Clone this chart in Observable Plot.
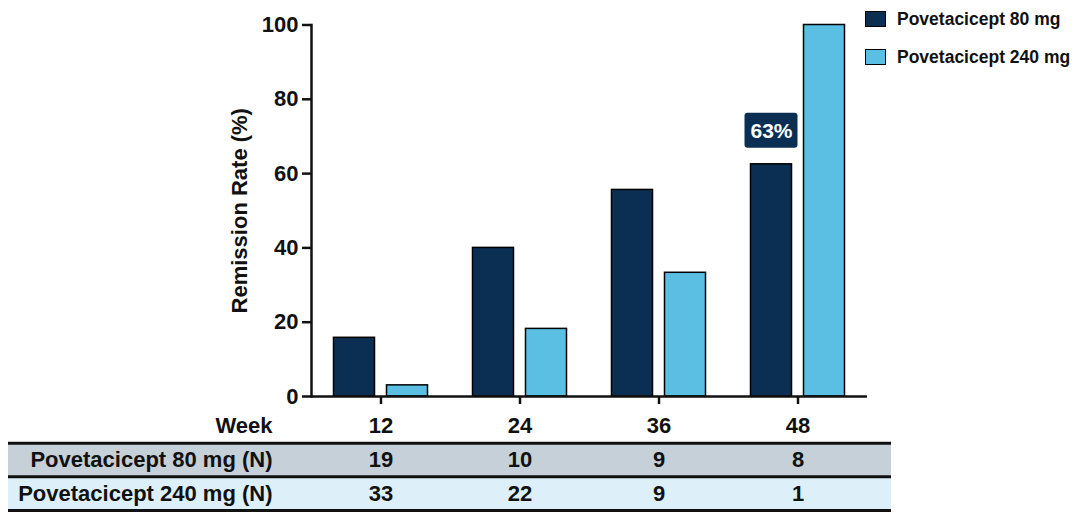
<!DOCTYPE html>
<html>
<head>
<meta charset="utf-8">
<script src="https://cdn.jsdelivr.net/npm/d3@7"></script>
<script src="https://cdn.jsdelivr.net/npm/@observablehq/plot@0.6"></script>
<style>
  html, body { margin: 0; padding: 0; background: #fff; }
  #wrap { position: relative; width: 1080px; height: 519px; overflow: hidden; font-family: "Liberation Sans", Arial, sans-serif; color: #111; }
  #wrap svg { display: block; }
  .legend { position: absolute; left: 865px; top: 0px; font-weight: bold; font-size: 17.5px; }
  .legend .item { display: flex; align-items: center; height: 38px; white-space: nowrap; }
  .legend .sw { width: 19px; height: 14px; border: 1.5px solid #000; margin-right: 11px; flex: none; }
</style>
</head>
<body>
<div id="wrap"></div>
<script>
// ---- data ----
const weeks = ["12", "24", "36", "48"];
const doses = ["Povetacicept 80 mg", "Povetacicept 240 mg"];
const rate80 = [15.8, 40.0, 55.6, 62.5];
const rate240 = [3.0, 18.2, 33.3, 100.0];
const n80 = [19, 10, 9, 8];
const n240 = [33, 22, 9, 1];
const rowLabels = ["Week", "Povetacicept 80 mg (N)", "Povetacicept 240 mg (N)"];
const yTicks = [0, 20, 40, 60, 80, 100];
const doseColors = ["#0B2F52", "#5BBFE4"];
const rowFills = ["white", "#C6D0D9", "#DDF0FA"];
const highlightWeek = "48";

// ---- derived tables ----
const bars = weeks.flatMap((w, i) => [
  {week: w, dose: doses[0], rate: rate80[i]},
  {week: w, dose: doses[1], rate: rate240[i]}
]);
const labels = bars.filter(d => d.week === highlightWeek && d.dose === doses[0]);
const tableRows = rowLabels.map((label, r) => ({label, r, fill: rowFills[r]}));
const tableCells = weeks.flatMap((w, i) => [
  {week: w, r: 0, text: w},
  {week: w, r: 1, text: String(n80[i])},
  {week: w, r: 2, text: String(n240[i])}
]);

const fontFamily = "'Liberation Sans', Arial, sans-serif";
const baseStyle = {fontFamily, fontSize: "22px", fontWeight: "bold", color: "#111", background: "transparent"};

const chart = Plot.plot({
  width: 1080, height: 409,
  marginTop: 24.5, marginBottom: 13, marginLeft: 310.5, marginRight: 213.5,
  style: baseStyle,
  fx: {domain: weeks, padding: 0},
  x: {domain: doses, paddingInner: 0.222, paddingOuter: 0.4, axis: null},
  y: {domain: [0, 100]},
  color: {domain: doses, range: doseColors},
  marks: [
    Plot.barY(bars, {fx: "week", x: "dose", y: "rate", fill: "dose", stroke: "#000", strokeWidth: 1.5}),
    Plot.ruleY([0], {strokeWidth: 2.5}),
    Plot.frame({anchor: "left", facetAnchor: "left", strokeWidth: 2.5}),
    Plot.axisY({ticks: yTicks, tickSize: 9, tickPadding: 4, strokeWidth: 2.5, fontSize: 22, fontWeight: "bold",
      label: "Remission Rate (%)", labelAnchor: "center", labelArrow: "none", labelOffset: 80}),
    Plot.axisFx({anchor: "bottom", tickSize: 8, strokeWidth: 2.5, tickFormat: () => "", label: null}),
    Plot.barY(labels, {fx: "week", x: "dose", y1: "rate", y2: "rate", insetTop: -51, insetBottom: 16,
      insetLeft: -6, insetRight: -6, rx: 3, fill: doseColors[0]}),
    Plot.text(labels, {fx: "week", x: "dose", y: "rate", dy: -33, text: d => `${Math.round(d.rate)}%`,
      fill: "white", fontSize: 21, fontWeight: "bold"})
  ]
});

const table = Plot.plot({
  width: 1080, height: 110,
  marginTop: 0, marginBottom: 9, marginLeft: 8, marginRight: 189,
  style: baseStyle,
  x: {type: "band", domain: weeks, range: [310.5, 866.5], padding: 0, axis: null},
  y: {domain: [0, rowLabels.length], reverse: true, axis: null},
  color: {type: "identity"},
  marks: [
    Plot.rect(tableRows, {y1: "r", y2: d => d.r + 1, fill: "fill"}),
    Plot.ruleY(d3.range(1, rowLabels.length + 1), {strokeWidth: 3, stroke: "#111"}),
    Plot.text(tableRows, {y: d => d.r + 0.5, text: "label", frameAnchor: "left", dx: 264, textAnchor: "end", fontSize: 22}),
    Plot.text(tableCells, {x: "week", y: d => d.r + 0.5, text: "text", fontSize: 22})
  ]
});

const wrap = document.getElementById("wrap");
wrap.appendChild(chart);
wrap.appendChild(table);

const legend = document.createElement("div");
legend.className = "legend";
doses.forEach((d, i) => {
  const item = document.createElement("div");
  item.className = "item";
  const sw = document.createElement("span");
  sw.className = "sw";
  sw.style.background = doseColors[i];
  const t = document.createElement("span");
  t.textContent = d;
  item.appendChild(sw);
  item.appendChild(t);
  legend.appendChild(item);
});
wrap.appendChild(legend);
</script>
</body>
</html>
